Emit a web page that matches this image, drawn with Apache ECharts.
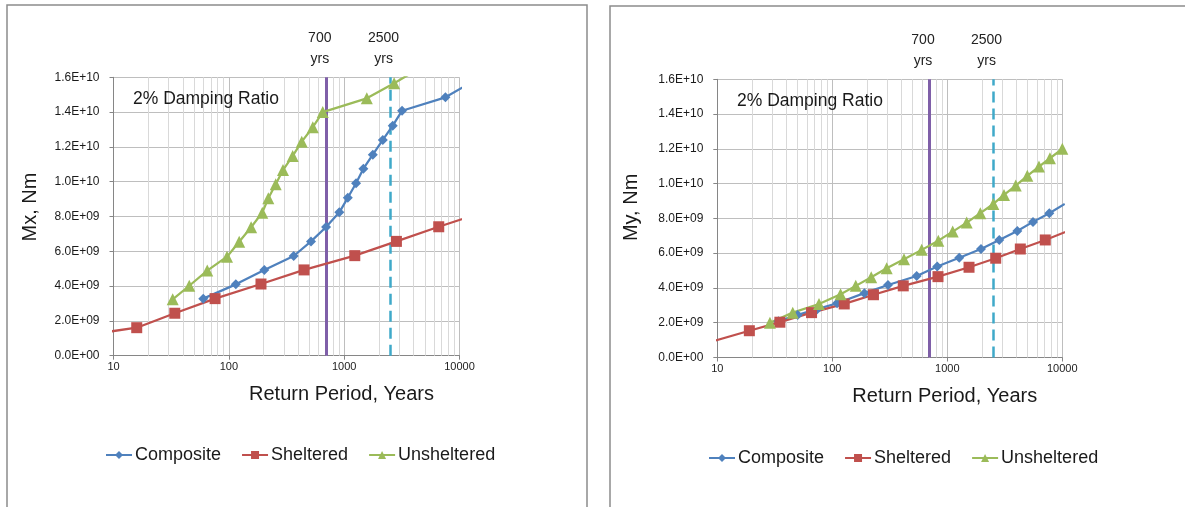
<!DOCTYPE html>
<html>
<head>
<meta charset="utf-8">
<script src="https://cdn.jsdelivr.net/npm/echarts@6/dist/echarts.min.js"></script>
<style>
  html, body { margin: 0; padding: 0; background: #fff; }
  #chart { width: 1185px; height: 507px; }
</style>
</head>
<body>
<div id="chart"></div>
<script>
// Return periods (years) and bending moments (units of 1E9 N·m)
const mxCompositeT = [60, 115, 203, 365, 516, 697, 908, 1075, 1268, 1468, 1771, 2163, 2638, 3177, 7550, 13000];
const mxCompositeM = [3.28, 4.10, 4.93, 5.73, 6.57, 7.40, 8.24, 9.08, 9.91, 10.75, 11.55, 12.40, 13.22, 14.08, 14.85, 15.75];
const mxShelteredT = [7, 15.9, 34, 76, 190, 449, 1236, 2838, 6607, 15000];
const mxShelteredM = [1.27, 1.61, 2.44, 3.28, 4.12, 4.93, 5.75, 6.57, 7.41, 8.18];
const mxUnshelteredT = [32.6, 45.4, 65, 96.4, 123, 156, 195, 220, 255, 295, 358, 429, 535, 652, 1571, 2711, 4200];
const mxUnshelteredM = [3.24, 4.02, 4.89, 5.69, 6.55, 7.38, 8.22, 9.05, 9.85, 10.67, 11.48, 12.30, 13.13, 14.00, 14.79, 15.66, 16.40];

const myCompositeT = [34, 50, 74, 110, 190, 305, 542, 818, 1270, 1963, 2831, 4062, 5559, 7708, 10500];
const myCompositeM = [2.08, 2.45, 2.78, 3.12, 3.70, 4.17, 4.69, 5.23, 5.74, 6.24, 6.76, 7.28, 7.80, 8.30, 8.83];
const myShelteredT = [9, 19, 35, 66, 127, 228, 414, 830, 1545, 2636, 4315, 7112, 13000];
const myShelteredM = [0.92, 1.54, 2.03, 2.58, 3.08, 3.61, 4.12, 4.65, 5.19, 5.71, 6.24, 6.76, 7.45];
const myUnshelteredT = [28.7, 45.3, 76.6, 118, 160, 218, 297, 420, 599, 835, 1114, 1475, 1937, 2512, 3112, 3937, 4966, 6268, 7812, 10000];
const myUnshelteredM = [2.00, 2.58, 3.08, 3.64, 4.12, 4.62, 5.13, 5.65, 6.19, 6.72, 7.24, 7.76, 8.30, 8.83, 9.35, 9.89, 10.45, 10.98, 11.46, 12.00];

const seriesNames = ['Composite', 'Sheltered', 'Unsheltered'];
const referencePeriods = [700, 2500];
const referenceLabels = ['700\nyrs', '2500\nyrs'];
const minorPeriods = [20, 30, 40, 50, 60, 70, 80, 90, 200, 300, 400, 500, 600, 700, 800, 900,
                      2000, 3000, 4000, 5000, 6000, 7000, 8000, 9000];
const panelTitles = ['Mx, Nm', 'My, Nm'];
const xTitle = 'Return Period, Years';
const noteText = '2% Damping Ratio';
const SCALE = 1e9;

const FONT = 'Liberation Sans';
const COLORS = { Composite: '#4F81BD', Sheltered: '#C0504D', Unsheltered: '#9BBB59' };
const SYMBOLS = { Composite: ['diamond', 10], Sheltered: ['rect', 11], Unsheltered: ['triangle', 12] };

function pairs(t, m) { return t.map((v, i) => [v, m[i] * SCALE]); }

function sciLabel(v) {
  if (v === 0) return '0.0E+00';
  const e = Math.floor(Math.log10(Math.abs(v)) + 1e-9);
  const mant = v / Math.pow(10, e);
  return mant.toFixed(1) + 'E+' + String(e).padStart(2, '0');
}

const panels = [
  { grid: { left: 113.5, top: 77.3, width: 346, height: 278.4 },
    data: [pairs(mxCompositeT, mxCompositeM), pairs(mxShelteredT, mxShelteredM), pairs(mxUnshelteredT, mxUnshelteredM)],
    yNameGap: 73, yShift: 19, legend: { left: 105, top: 446 }, note: { x: 133, y: 99 } },
  { grid: { left: 717.3, top: 79.3, width: 345, height: 278.2 },
    data: [pairs(myCompositeT, myCompositeM), pairs(myShelteredT, myShelteredM), pairs(myUnshelteredT, myUnshelteredM)],
    yNameGap: 76, yShift: 22, legend: { left: 708, top: 449 }, note: { x: 737, y: 101 } }
];

const option = {
  animation: false,
  backgroundColor: '#ffffff',
  textStyle: { fontFamily: FONT },
  grid: panels.map(p => Object.assign({ containLabel: false }, p.grid)),
  xAxis: panels.map((p, i) => ({
    type: 'log', logBase: 10, min: 10, max: 10000, gridIndex: i,
    name: xTitle, nameLocation: 'middle', nameGap: 29,
    nameTextStyle: { fontSize: 20, color: '#1a1a1a', padding: [0, 0, 0, 110], fontFamily: FONT },
    axisLine: { show: true, lineStyle: { color: '#868686', width: 1 } },
    axisTick: { show: true, length: 4, lineStyle: { color: '#868686' } },
    axisLabel: { fontSize: 11, color: '#222', margin: 6, fontFamily: FONT, formatter: v => String(Math.round(v)) },
    splitLine: { show: true, lineStyle: { color: '#BEBEBE', width: 1 } }
  })),
  yAxis: panels.map((p, i) => ({
    type: 'value', min: 0, max: 16e9, interval: 2e9, gridIndex: i,
    name: panelTitles[i], nameLocation: 'middle', nameGap: p.yNameGap,
    nameTextStyle: { fontSize: 20, color: '#1a1a1a', padding: [0, 0, 0, p.yShift], fontFamily: FONT },
    axisLine: { show: true, lineStyle: { color: '#868686', width: 1 } },
    axisTick: { show: true, length: 4, lineStyle: { color: '#868686' } },
    axisLabel: { fontSize: 12, color: '#1a1a1a', margin: 14, formatter: sciLabel, fontFamily: FONT },
    splitLine: { show: true, lineStyle: { color: '#BEBEBE', width: 1 } }
  })),
  legend: panels.map((p, i) => ({
    data: seriesNames,
    left: p.legend.left, top: p.legend.top, padding: 0,
    itemWidth: 26, itemHeight: 10, itemGap: 20,
    textStyle: { fontSize: 18, color: '#1a1a1a', fontFamily: FONT, padding: [0, 0, 0, -2] },
    selectedMode: false
  })),
  graphic: [
    // outer chart frames
    { type: 'rect', shape: { x: 7, y: 5, width: 580, height: 540 }, style: { fill: 'none', stroke: '#8C8C8C', lineWidth: 1.5 }, z: 0 },
    { type: 'rect', shape: { x: 610, y: 6, width: 600, height: 540 }, style: { fill: 'none', stroke: '#8C8C8C', lineWidth: 1.5 }, z: 0 }
  ].concat(panels.map(p => ({
    type: 'text', x: p.note.x, y: p.note.y, z: 10,
    style: { text: noteText, fontSize: 17.5, fontFamily: FONT, fill: '#1a1a1a', verticalAlign: 'middle' }
  }))),
  series: []
};

panels.forEach((p, i) => {
  // minor log gridlines, kept beneath the data
  option.series.push({
    type: 'line', xAxisIndex: i, yAxisIndex: i, data: [], silent: true, z: 1,
    markLine: {
      z: 1, silent: true, symbol: ['none', 'none'], animation: false,
      label: { show: false },
      lineStyle: { color: '#D9D9D9', width: 1, type: 'solid' },
      emphasis: { disabled: true },
      data: minorPeriods.map(v => ({ xAxis: v }))
    }
  });
  // 700-year and 2500-year reference return periods
  option.series.push({
    type: 'line', xAxisIndex: i, yAxisIndex: i, data: [], silent: true, z: 2,
    markLine: {
      z: 2, silent: true, symbol: ['none', 'none'], animation: false,
      emphasis: { disabled: true },
      data: referencePeriods.map((v, k) => ({
        xAxis: v,
        lineStyle: k === 0
          ? { color: '#7F5FA8', width: 3, type: 'solid' }
          : { color: '#3FA9C9', width: 2.5, type: [11, 6] },
        label: {
          show: true, position: 'end', formatter: referenceLabels[k],
          fontSize: 14, lineHeight: 21, color: '#222', fontFamily: FONT,
          distance: 8, padding: [0, 13, 0, 0]
        }
      }))
    }
  });
  seriesNames.forEach((name, s) => {
    option.series.push({
      name, type: 'line', xAxisIndex: i, yAxisIndex: i, z: 3,
      data: p.data[s], clip: true,
      symbol: SYMBOLS[name][0], symbolSize: SYMBOLS[name][1], showSymbol: true,
      lineStyle: { color: COLORS[name], width: 2.25 },
      itemStyle: { color: COLORS[name] },
      emphasis: { disabled: true }
    });
  });
});

const chart = echarts.init(document.getElementById('chart'), null, { renderer: 'canvas' });
chart.setOption(option);
</script>
</body>
</html>
